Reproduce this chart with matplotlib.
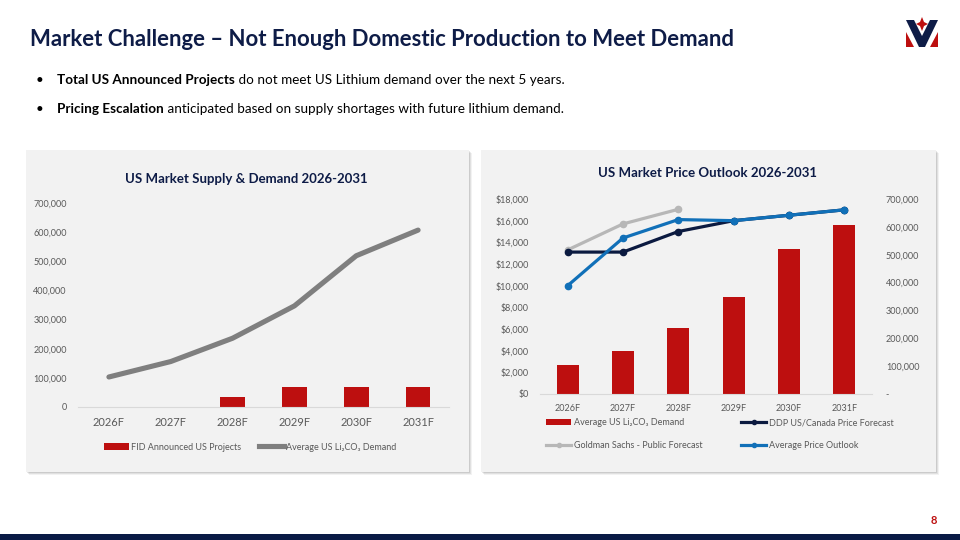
import matplotlib
matplotlib.use("Agg")
import matplotlib.pyplot as plt
from matplotlib.patches import Rectangle, Polygon, Patch
from matplotlib.lines import Line2D
from matplotlib.ticker import FuncFormatter

# ---------------- data ----------------
years = ["2026F", "2027F", "2028F", "2029F", "2030F", "2031F"]
fid_projects = [0, 0, 33000, 68000, 68000, 68000]
avg_demand = [103000, 156000, 236000, 347000, 519000, 607000]

ddp_price = [13100, 13100, 15000, 16000, 16500, 17000]
gs_years = ["2026F", "2027F", "2028F"]
gs_price = [13300, 15700, 17050]
avg_price = [10000, 14400, 16100, 16000, 16500, 17000]

left_yticks = [0, 100000, 200000, 300000, 400000, 500000, 600000, 700000]
price_yticks = [0, 2000, 4000, 6000, 8000, 10000, 12000, 14000, 16000, 18000]

# ---------------- style ----------------
NAVY = "#0E1C47"
RED = "#BD0F0F"
GRAY_LINE = "#7F7F7F"
GS_GRAY = "#B7B7B7"
BLUE = "#1170B8"
DDP = "#0B1A40"
TICK = "#595959"
PANEL = "#F2F2F2"
FONT = ["Lato", "DejaVu Sans"]
plt.rcParams["font.family"] = FONT

W, H = 960, 540
fig = plt.figure(figsize=(9.6, 5.4), dpi=100)
fig.patch.set_facecolor("white")


def box(x0, y0, x1, y1):
    return [x0 / W, 1 - y1 / H, (x1 - x0) / W, (y1 - y0) / H]


def fx(x):
    return x / W


def fy(y):
    return 1 - y / H


# panels with soft shadow
for (x0, y0, x1, y1) in [(26, 150, 469, 472), (481, 150, 936, 472)]:
    for i, a in enumerate([0.05, 0.07, 0.09]):
        off = 3 - i
        fig.add_artist(Rectangle((fx(x0 + off), fy(y1 + off)), (x1 - x0) / W, (y1 - y0) / H,
                                 transform=fig.transFigure, facecolor="#000000", alpha=a,
                                 edgecolor="none", zorder=-3))
    fig.add_artist(Rectangle((fx(x0), fy(y1)), (x1 - x0) / W, (y1 - y0) / H,
                             transform=fig.transFigure, facecolor=PANEL, edgecolor="none", zorder=-2))

# title
fig.text(fx(30), fy(40), "Market Challenge \u2013 Not Enough Domestic Production to Meet Demand",
         fontsize=15.9, fontweight="bold", color=NAVY, va="center", ha="left")

# bullets
renderer = fig.canvas.get_renderer()
bullets = [("Total US Announced Projects", " do not meet US Lithium demand over the next 5 years.", 80),
           ("Pricing Escalation", " anticipated based on supply shortages with future lithium demand.", 109)]
for bold, rest, y in bullets:
    fig.text(fx(36), fy(y), "\u2022", fontsize=9.7, color="black", va="center", ha="left")
    t = fig.text(fx(57), fy(y), bold, fontsize=9.7, fontweight="bold", color="black",
                 va="center", ha="left")
    bb = t.get_window_extent(renderer=renderer)
    fig.text(bb.x1 / W, fy(y), rest, fontsize=9.7, color="black", va="center", ha="left")

# logo
logo_navy = [(906, 20), (914, 20), (922, 36), (930, 20), (938, 20), (925, 47), (919, 47)]
fig.add_artist(Polygon([(fx(x), fy(y)) for x, y in logo_navy], closed=True,
                       transform=fig.transFigure, facecolor=NAVY, edgecolor="none"))
for tri in [[(906, 32), (906, 47), (914, 47)], [(938, 32), (938, 47), (930, 47)]]:
    fig.add_artist(Polygon([(fx(x), fy(y)) for x, y in tri], closed=True,
                           transform=fig.transFigure, facecolor=RED, edgecolor="none"))
star = [(922, 17), (924, 22), (928, 24), (924, 26), (922, 31), (920, 26), (916, 24), (920, 22)]
fig.add_artist(Polygon([(fx(x), fy(y)) for x, y in star], closed=True,
                       transform=fig.transFigure, facecolor=RED, edgecolor="none"))

# footer
fig.add_artist(Rectangle((0, 0), 1, 6 / H, transform=fig.transFigure,
                         facecolor="#0A1A45", edgecolor="none"))
fig.text(fx(934), fy(521), "8", fontsize=8, fontweight="bold", color=RED, ha="center", va="center")

x = list(range(len(years)))

# ---------------- left chart ----------------
axL = fig.add_axes(box(78, 203, 449, 407))
axL.set_facecolor("none")
axL.bar(x, fid_projects, width=0.4, color=RED, zorder=2)
axL.plot(x, avg_demand, color=GRAY_LINE, lw=3.7, solid_capstyle="round", zorder=3)
axL.set_xlim(-0.5, 5.5)
axL.set_ylim(0, 700000)
axL.set_yticks(left_yticks)
axL.yaxis.set_major_formatter(FuncFormatter(lambda v, p: f"{int(v):,}"))
axL.set_xticks(x)
axL.set_xticklabels(years)
for s in ["top", "right", "left"]:
    axL.spines[s].set_visible(False)
axL.spines["bottom"].set_color("#D9D9D9")
axL.tick_params(axis="y", length=0, labelsize=6.5, labelcolor=TICK, pad=8)
axL.tick_params(axis="x", length=0, labelsize=8, labelcolor=TICK, pad=7)
fig.text(fx(246), fy(179), "US Market Supply & Demand 2026-2031", fontsize=9.5,
         fontweight="bold", color=NAVY, ha="center", va="center")
axL.legend([Patch(facecolor=RED, edgecolor="none"), Line2D([], [], color=GRAY_LINE, lw=3.7)],
           ["FID Announced US Projects", "Average US Li\u2082CO\u2083 Demand"],
           loc="center", bbox_to_anchor=(fx(250), fy(447)), bbox_transform=fig.transFigure,
           ncol=2, frameon=False, fontsize=6.5, labelcolor=TICK, handlelength=2.8,
           handleheight=0.7, handletextpad=0.2, columnspacing=2.0)

# ---------------- right chart ----------------
axD = fig.add_axes(box(540, 199, 872, 394))
axD.set_facecolor("none")
axD.bar(x, avg_demand, width=0.4, color=RED, zorder=2)
axD.set_xlim(-0.5, 5.5)
axD.set_ylim(0, 700000)
axD.set_xticks(x)
axD.set_xticklabels(years)
for s in ["top", "right", "left"]:
    axD.spines[s].set_visible(False)
axD.spines["bottom"].set_color("#D9D9D9")
axD.tick_params(axis="x", length=0, labelsize=6.5, labelcolor=TICK, pad=7)

axP = axD.twinx()
axD.yaxis.tick_right()
axD.yaxis.set_label_position("right")
axD.set_yticks(left_yticks)
axD.yaxis.set_major_formatter(FuncFormatter(lambda v, p: "-" if v == 0 else f"{int(v):,}"))
axD.tick_params(axis="y", length=0, labelsize=6.5, labelcolor=TICK, pad=10)

axP.yaxis.tick_left()
axP.set_ylim(0, 18000)
axP.set_yticks(price_yticks)
axP.yaxis.set_major_formatter(FuncFormatter(lambda v, p: f"${int(v):,}"))
for s in ["top", "right", "left", "bottom"]:
    axP.spines[s].set_visible(False)
axP.tick_params(axis="y", length=0, labelsize=6.5, labelcolor=TICK, pad=8)
gx = [years.index(g) for g in gs_years]
axP.plot(gx, gs_price, color=GS_GRAY, lw=2.3, marker="o", ms=4.5, zorder=3)
axP.plot(x, ddp_price, color=DDP, lw=2.3, marker="o", ms=4.5, zorder=4)
axP.plot(x, avg_price, color=BLUE, lw=2.3, marker="o", ms=4.5, zorder=5)

fig.text(fx(708), fy(173), "US Market Price Outlook 2026-2031", fontsize=9.5,
         fontweight="bold", color=NAVY, ha="center", va="center")

handles = [Patch(facecolor=RED, edgecolor="none"),
           Line2D([], [], color=GS_GRAY, lw=2.3, marker="o", ms=3),
           Line2D([], [], color=DDP, lw=2.3, marker="o", ms=3),
           Line2D([], [], color=BLUE, lw=2.3, marker="o", ms=3)]
labels = ["Average US Li\u2082CO\u2083 Demand", "Goldman Sachs - Public Forecast",
          "DDP US/Canada Price Forecast", "Average Price Outlook"]
axP.legend(handles, labels, loc="center", bbox_to_anchor=(fx(720), fy(434)),
           bbox_transform=fig.transFigure, ncol=2, frameon=False, fontsize=6.5,
           labelcolor=TICK, handlelength=2.8, handleheight=0.7, handletextpad=0.35,
           columnspacing=4.2, labelspacing=1.55)

fig.savefig("out.png", dpi=100, facecolor="white")
